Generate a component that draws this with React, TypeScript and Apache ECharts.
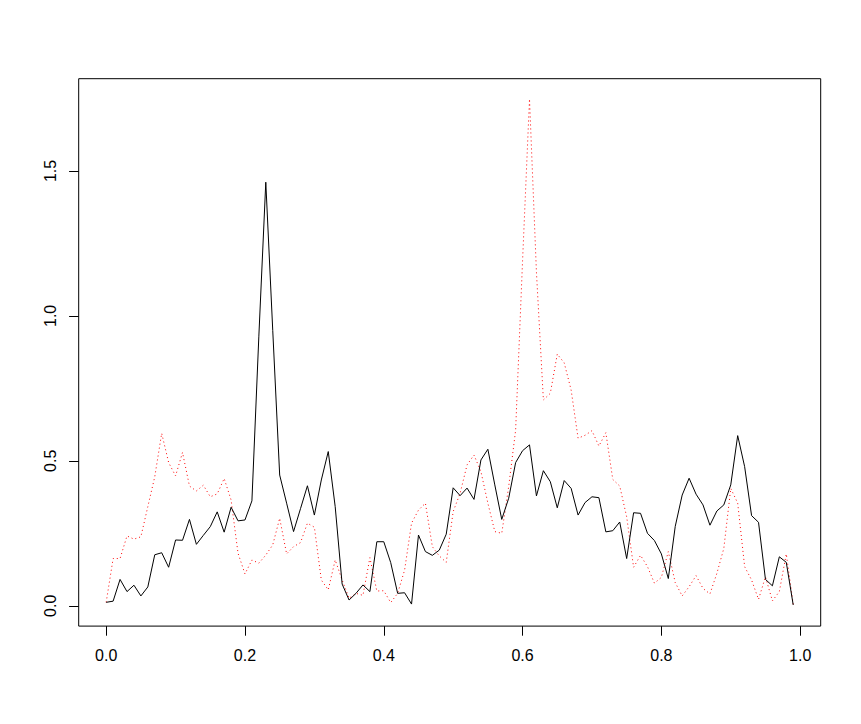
import React, { useEffect, useRef } from "react";
import * as echarts from "echarts";

const xValues: number[] = Array.from({ length: 100 }, (_, i) => i / 100);

const blackSeries: number[] = [
  0.012, 0.016, 0.091, 0.049, 0.071, 0.034, 0.065, 0.176, 0.183, 0.133,
  0.227, 0.226, 0.298, 0.212, 0.243, 0.273, 0.324, 0.254, 0.340, 0.293,
  0.296, 0.362, 0.930, 1.461, 0.950, 0.451, 0.354, 0.256, 0.335, 0.414,
  0.313, 0.434, 0.532, 0.342, 0.075, 0.020, 0.043, 0.072, 0.049, 0.221,
  0.221, 0.149, 0.043, 0.045, 0.006, 0.244, 0.187, 0.174, 0.192, 0.247,
  0.407, 0.380, 0.406, 0.367, 0.503, 0.540, 0.417, 0.298, 0.371, 0.494,
  0.535, 0.555, 0.379, 0.466, 0.428, 0.338, 0.432, 0.405, 0.313, 0.356,
  0.376, 0.373, 0.255, 0.259, 0.289, 0.163, 0.321, 0.319, 0.250, 0.225,
  0.179, 0.094, 0.274, 0.382, 0.440, 0.385, 0.348, 0.278, 0.327, 0.348,
  0.417, 0.587, 0.480, 0.311, 0.288, 0.091, 0.069, 0.169, 0.150, 0.003,
];

const redSeries: number[] = [
  0.012, 0.163, 0.163, 0.241, 0.230, 0.238, 0.342, 0.445, 0.595, 0.494,
  0.448, 0.529, 0.413, 0.396, 0.416, 0.376, 0.386, 0.439, 0.365, 0.181,
  0.110, 0.158, 0.147, 0.175, 0.210, 0.302, 0.179, 0.204, 0.218, 0.285,
  0.271, 0.089, 0.055, 0.158, 0.089, 0.026, 0.043, 0.036, 0.166, 0.051,
  0.052, 0.011, 0.043, 0.123, 0.285, 0.330, 0.354, 0.204, 0.172, 0.150,
  0.325, 0.388, 0.486, 0.520, 0.463, 0.354, 0.256, 0.250, 0.411, 0.606,
  1.190, 1.748, 1.150, 0.710, 0.733, 0.868, 0.838, 0.744, 0.578, 0.588,
  0.604, 0.551, 0.597, 0.436, 0.413, 0.307, 0.133, 0.174, 0.135, 0.078,
  0.098, 0.187, 0.080, 0.034, 0.066, 0.104, 0.060, 0.041, 0.112, 0.198,
  0.405, 0.354, 0.135, 0.089, 0.022, 0.100, 0.017, 0.049, 0.179, 0.005,
];

const xTicks: number[] = [0, 0.2, 0.4, 0.6, 0.8, 1.0];
const yTicks: number[] = [0, 0.5, 1.0, 1.5];

export default function App() {
  const ref = useRef<HTMLDivElement>(null);

  useEffect(() => {
    if (!ref.current) return;
    const chart = echarts.init(ref.current, null, { renderer: "svg" });

    const xMinData = Math.min(...xValues);
    const xMaxData = Math.max(...xValues);
    const xPad = (xMaxData - xMinData) * 0.04;
    const yMin = -0.07;
    const yMax = 1.818;

    const font = "'Liberation Sans', Arial, Helvetica, sans-serif";

    chart.setOption({
      animation: false,
      backgroundColor: "#ffffff",
      grid: {
        left: 78.7,
        top: 78.7,
        width: 742,
        height: 547.4,
        show: true,
        borderColor: "#000000",
        borderWidth: 1,
        backgroundColor: "transparent",
        containLabel: false,
      },
      xAxis: {
        type: "value",
        position: "bottom",
        min: xMinData - xPad,
        max: xMaxData + xPad,
        axisLine: { show: false, onZero: false },
        splitLine: { show: false },
        axisTick: {
          show: true,
          inside: false,
          length: 9.6,
          customValues: xTicks,
          lineStyle: { color: "#000000", width: 1 },
        },
        axisLabel: {
          show: true,
          customValues: xTicks,
          margin: 21,
          color: "#000000",
          fontSize: 16,
          fontFamily: font,
          formatter: (v: number) => v.toFixed(1),
        },
      },
      yAxis: {
        type: "value",
        position: "left",
        min: yMin,
        max: yMax,
        axisLine: { show: false, onZero: false },
        splitLine: { show: false },
        axisTick: {
          show: true,
          inside: false,
          length: 9.6,
          customValues: yTicks,
          lineStyle: { color: "#000000", width: 1 },
        },
        axisLabel: {
          show: true,
          customValues: yTicks,
          rotate: 90,
          margin: 20,
          color: "#000000",
          fontSize: 16,
          fontFamily: font,
          formatter: (v: number) => v.toFixed(1),
        },
      },
      series: [
        {
          type: "line",
          name: "black",
          data: xValues.map((x, i) => [x, blackSeries[i]]),
          showSymbol: false,
          symbol: "none",
          lineStyle: { color: "#000000", width: 1, type: "solid" },
          z: 3,
        },
        {
          type: "line",
          name: "red",
          data: xValues.map((x, i) => [x, redSeries[i]]),
          showSymbol: false,
          symbol: "none",
          lineStyle: { color: "#ff0000", width: 1, type: [1, 3] },
          z: 2,
        },
      ],
    });

    return () => {
      chart.dispose();
    };
  }, []);

  return (
    <div
      ref={ref}
      style={{ position: "fixed", left: 0, top: 0, width: 861, height: 724, background: "#fff" }}
    />
  );
}
